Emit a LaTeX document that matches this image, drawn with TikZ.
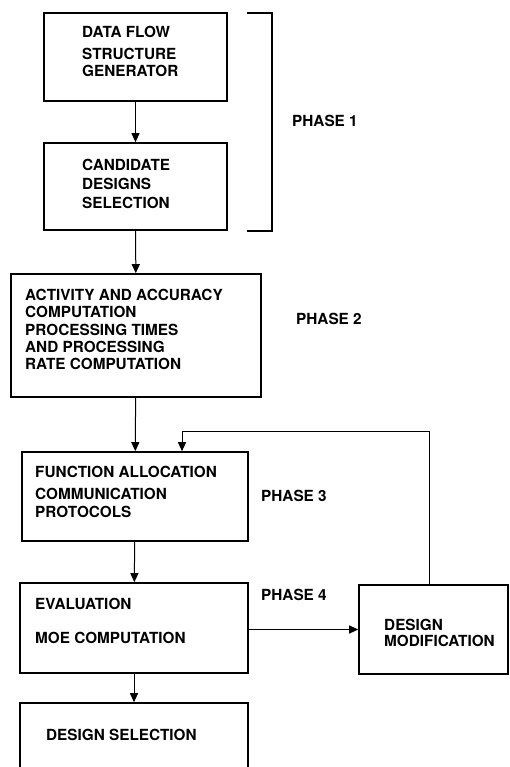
\documentclass[tikz,border=0pt]{standalone}
\usepackage{fontspec}
\setmainfont{TeX Gyre Heros}
\usetikzlibrary{positioning, arrows.meta}

\begin{document}
\begin{tikzpicture}[x=1pt, y=-1pt,
    box/.style={draw, line width=1.6pt, inner sep=0pt},
    lbl/.style={anchor=west, align=left, inner sep=0pt,
      font=\fontsize{15.3}{17.4}\selectfont\bfseries},
    arr/.style={line width=1pt, -{Triangle[length=9pt,width=8pt]}}]
  \useasboundingbox (0,0) rectangle (509,767);

  % the boxes
  \node[box, minimum width=183pt, minimum height=88pt] (gen) at (135.5,57) {};
  \node[box, minimum width=183pt, minimum height=87pt] (cand) at (135.5,186.5) {};
  \node[box, minimum width=250pt, minimum height=123pt] (act) at (136,335.5) {};
  \node[box, minimum width=226pt, minimum height=89pt] (alloc) at (135,496.5) {};
  \node[box, minimum width=228pt, minimum height=90pt] (eval) at (134,628) {};
  \node[box, minimum width=149pt, minimum height=89pt] (dm) at (433.5,629.5) {};
  \node[box, minimum width=228pt, minimum height=72pt] (sel) at (134,739) {};

  % texts in the boxes
  \node[lbl] (gentxt) at (82,51.5) {DATA FLOW\\[4.6pt]STRUCTURE\\GENERATOR};
  \node[lbl] (candtxt) at (82,184) {CANDIDATE\\[1.6pt]DESIGNS\\[1.6pt]SELECTION};
  \node[lbl] (acttxt) at (25,329.5) {ACTIVITY AND ACCURACY\\COMPUTATION\\PROCESSING TIMES\\AND PROCESSING\\RATE COMPUTATION};
  \node[lbl] (alloctxt) at (35,492) {FUNCTION ALLOCATION\\[4.6pt]COMMUNICATION\\PROTOCOLS};
  \node[lbl] (evaltxt) at (35,621) {EVALUATION\\[16.6pt]MOE COMPUTATION};
  \node[lbl] (dmtxt) at (384,632.5) {DESIGN\\[-1.4pt]MODIFICATION};
  \node[lbl] (seltxt) at (46,735) {DESIGN SELECTION};

  % phase labels
  \node[lbl] (ph1) at (292,121) {PHASE 1};
  \node[lbl] (ph2) at (296,318.5) {PHASE 2};
  \node[lbl] (ph3) at (261,496) {PHASE 3};
  \node[lbl] (ph4) at (261,594.5) {PHASE 4};

  % bracket round phase 1
  \coordinate (brtop) at (272,13);
  \coordinate (brbot) at (272,231);
  \draw[line width=1.6pt] (brtop) ++(-25,0) -- (brtop) -- (brbot) -- ++(-25,0);

  % flow
  \draw[arr] (gen) -- (cand);
  \draw[arr] (cand) -- (act);
  \draw[arr] (act) -- (alloc);
  \draw[arr] (alloc) -- (eval);
  \draw[arr] (eval) -- (sel);
  \draw[arr] (eval.east |- dm.west) -- (dm.west);

  % feedback loop
  \coordinate (fbr) at (429,431);
  \coordinate (fbl) at (182,431);
  \draw[arr] (dm.north -| fbr) -- (fbr) -- (fbl) -- (fbl |- alloc.north);
\end{tikzpicture}
\end{document}
